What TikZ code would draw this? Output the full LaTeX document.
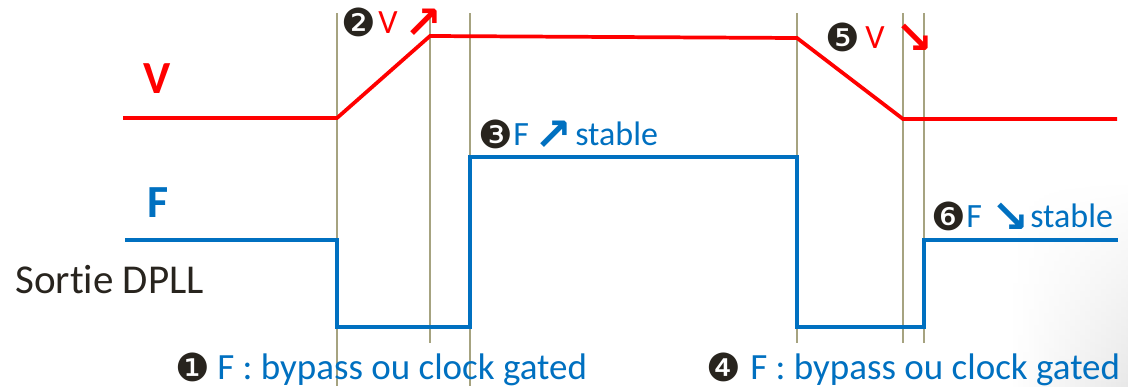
\documentclass[tikz,border=0pt]{standalone}
\usepackage{fontspec}
\setmainfont{Carlito}[Ligatures=NoCommon]
\newfontfamily\dv{DejaVu Sans}
\usetikzlibrary{fadings}
\definecolor{sigred}{RGB}{255,0,0}
\definecolor{sigblue}{RGB}{0,112,192}
\definecolor{guide}{RGB}{166,163,128}
\definecolor{darktext}{RGB}{40,36,30}
\tikzset{
  guideline/.style={draw=guide,line width=1.8pt},
  redsig/.style={draw=sigred,line width=2.8pt,line join=miter},
  bluesig/.style={draw=sigblue,line width=2.8pt,line join=miter},
  lbl/.style={inner sep=0pt,anchor=base west},
  numc/.style={lbl,font=\dv\fontsize{29}{29}\selectfont,text=darktext},
  arr/.style={lbl,font=\dv\bfseries\fontsize{34}{34}\selectfont},
  small/.style={lbl,font=\fontsize{25.5}{25.5}\selectfont},
  big/.style={lbl,font=\fontsize{27.75}{27.75}\selectfont,text=sigblue},
  axis/.style={lbl,font=\bfseries\fontsize{34.5}{34.5}\selectfont}
}
\begin{document}
\begin{tikzpicture}[x=0.75pt,y=-0.75pt]
\useasboundingbox (0,0) rectangle (1128,386);
\shade[left color=white,right color=black!9,path fading=north] (1010,180) rectangle (1128,386);
% guide lines
\coordinate (g1t) at (337,13); \coordinate (g1b) at (337,386);
\coordinate (g2t) at (430,13); \coordinate (g2b) at (430,343);
\coordinate (g3t) at (470,13); \coordinate (g3b) at (470,386);
\coordinate (g4t) at (797,13); \coordinate (g4b) at (797,343);
\coordinate (g5t) at (903,13); \coordinate (g5b) at (903,343);
\coordinate (g6t) at (924,13); \coordinate (g6b) at (924,343);
\foreach \i in {1,...,6} {\draw[guideline] (g\i t) -- (g\i b);}
% V signal
\coordinate (v0) at (123,118);
\coordinate (v1) at (337,118);
\coordinate (v2) at (430,36);
\coordinate (v3) at (797,38);
\coordinate (v4) at (903,119);
\coordinate (v5) at (1117,119);
\draw[redsig] (v0) -- (v1) -- (v2) -- (v3) -- (v4) -- (v5);
% F signal
\coordinate (f0) at (125,240);
\coordinate (f1) at (337,240);
\coordinate (f2) at (337,327);
\coordinate (f3) at (470,327);
\coordinate (f4) at (470,157);
\coordinate (f5) at (797,157);
\coordinate (f6) at (797,327);
\coordinate (f7) at (924,327);
\coordinate (f8) at (924,240);
\coordinate (f9) at (1118,240);
\draw[bluesig] (f0) -- (f1) -- (f2) -- (f3) -- (f4) -- (f5) -- (f6) -- (f7) -- (f8) -- (f9);
% axis labels
\node[axis,text=sigred] (Vlab) at (143,93) {V};
\node[axis,text=sigblue] (Flab) at (147,217) {F};
\node[lbl,font=\fontsize{30.75}{30.75}\selectfont,text=darktext] (sortie) at (15,293) {Sortie DPLL};
% 1
\node[numc] (n1c) at (175,381) {❶};
\node[big] (n1t) at (217,379) {F : bypass ou clock gated};
% 4
\node[numc] (n4c) at (706,381) {❹};
\node[big] (n4t) at (750,379) {F : bypass ou clock gated};
% 2
\node[numc] (n2c) at (341,36) {❷};
\node[small,text=sigred] (n2v) at (378,33) {V};
\node[arr,text=sigred] (n2a) at (404,38) {↗};
% 3
\node[numc] (n3c) at (478,148) {❸};
\node[small,text=sigblue] (n3t) at (513,145) {F};
\node[arr,text=sigblue] (n3a) at (534,150) {↗};
\node[small,text=sigblue] (n3s) at (575,145) {stable};
% 5
\node[numc] (n5c) at (825,51) {❺};
\node[small,text=sigred] (n5v) at (865,48) {V};
\node[arr,text=sigred] (n5a) at (895,53) {↘};
% 6
\node[numc] (n6c) at (931,230) {❻};
\node[small,text=sigblue] (n6t) at (966,227) {F};
\node[arr,text=sigblue] (n6a) at (991,232) {↘};
\node[small,text=sigblue] (n6s) at (1030,227) {stable};
\end{tikzpicture}
\end{document}
